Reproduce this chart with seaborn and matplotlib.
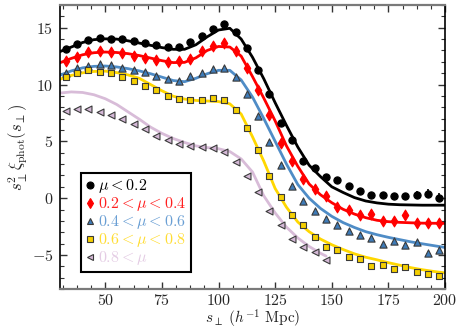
import numpy as np
import pandas as pd
import matplotlib
matplotlib.use("Agg")
import matplotlib.pyplot as plt
from matplotlib.ticker import MultipleLocator
from matplotlib.lines import Line2D
import seaborn as sns

# ---- data points (s_perp bins) ----
s_pts = [32.5, 37.5, 42.5, 47.5, 52.5, 57.5, 62.5, 67.5, 72.5, 77.5, 82.5, 87.5,
         92.5, 97.5, 102.5, 107.5, 112.5, 117.5, 122.5, 127.5, 132.5, 137.5, 142.5,
         147.5, 152.5, 157.5, 162.5, 167.5, 172.5, 177.5, 182.5, 187.5, 192.5, 197.5]

mu1_pts = [13.1, 13.58, 13.92, 14.1, 14.03, 14.04, 13.83, 13.63, 13.49, 13.32, 13.28, 13.72,
           14.3, 14.91, 15.29, 14.62, 13.23, 11.25, 9.2, 6.62, 5.12, 3.3, 2.69, 1.82,
           1.56, 1.04, 0.6, 0.25, 0.28, 0.16, 0.16, 0.28, 0.37, 0.05]
mu1_err = [0.1, 0.1, 0.1, 0.1, 0.1, 0.1, 0.1, 0.1, 0.1, 0.1, 0.1, 0.1,
           0.12, 0.12, 0.12, 0.12, 0.12, 0.15, 0.15, 0.15, 0.15, 0.2, 0.2, 0.2,
           0.2, 0.25, 0.25, 0.3, 0.3, 0.3, 0.3, 0.35, 0.4, 0.4]

mu2_pts = [12.05, 12.42, 12.82, 12.93, 12.88, 12.75, 12.52, 12.32, 12.18, 11.95, 12.1, 12.25,
           12.97, 13.38, 13.62, 12.94, 11.45, 9.55, 7.33, 4.88, 3.25, 1.68, 0.83, 0.16,
           -0.75, -1.05, -1.52, -1.38, -2.03, -2.03, -1.5, -2.15, -2.15, -2.15]
mu2_err = [0.2, 0.2, 0.2, 0.2, 0.2, 0.2, 0.2, 0.2, 0.2, 0.2, 0.2, 0.2,
           0.2, 0.2, 0.2, 0.2, 0.2, 0.2, 0.2, 0.2, 0.2, 0.25, 0.25, 0.25,
           0.25, 0.3, 0.3, 0.3, 0.3, 0.3, 0.3, 0.35, 0.35, 0.35]

mu3_pts = [11.02, 11.45, 11.66, 11.77, 11.68, 11.46, 11.24, 11.07, 10.72, 10.5, 10.32, 10.79,
           10.98, 11.39, 11.47, 10.63, 9.19, 7.27, 4.95, 2.92, 1.06, -0.22, -1.11, -1.8,
           -2.38, -2.93, -3.25, -3.5, -4.05, -3.78, -4.1, -3.9, -4.8, -4.58]

mu4_pts = [10.68, 11.05, 11.25, 11.14, 10.99, 10.67, 10.32, 9.88, 9.51, 9.02, 8.7, 8.66,
           8.68, 8.85, 8.68, 7.77, 6.2, 4.2, 1.99, 0.13, -1.49, -2.38, -3.4, -4.28,
           -4.6, -5.21, -5.35, -5.93, -5.85, -6.22, -6.09, -6.51, -6.7, -6.89]

s_pts5 = [32.5, 37.5, 42.5, 47.5, 52.5, 57.5, 62.5, 67.5, 72.5, 77.5, 82.5, 87.5,
          92.5, 97.5, 102.5, 107.5, 112.5, 117.5, 122.5, 127.5, 132.5, 137.5, 142.5, 147.5]
mu5_pts = [7.7, 7.82, 7.82, 7.6, 7.35, 7.0, 6.55, 6.08, 5.46, 5.1, 4.75, 4.55,
           4.48, 4.37, 4.08, 3.17, 1.91, 0.55, -1.11, -2.33, -3.61, -4.3, -4.72, -5.45]

# ---- model curves ----
s_mod = [30, 35, 40, 45, 50, 55, 60, 65, 70, 75, 80, 85, 90, 95, 100, 105, 110, 115,
         120, 125, 130, 135, 140, 145, 150, 155, 160, 165, 170, 175, 180, 185, 190, 195, 200]
mu1_mod = [12.9, 13.3, 13.7, 13.95, 14.02, 14.0, 13.85, 13.65, 13.45, 13.25, 13.1, 13.1,
           13.5, 14.2, 14.8, 14.95, 14.0, 12.4, 10.5, 8.4, 6.4, 4.5, 2.9, 1.9, 1.0, 0.5,
           0.05, -0.25, -0.42, -0.53, -0.58, -0.6, -0.62, -0.62, -0.62]
mu2_mod = [11.92, 12.3, 12.62, 12.8, 12.86, 12.82, 12.72, 12.55, 12.33, 12.1, 11.93, 11.95,
           12.35, 13.0, 13.35, 13.3, 12.5, 10.7, 8.8, 6.8, 4.6, 2.8, 1.25, 0.3, -0.4, -0.98,
           -1.4, -1.72, -1.95, -2.07, -2.13, -2.17, -2.2, -2.21, -2.22]
mu3_mod = [10.82, 11.2, 11.47, 11.6, 11.63, 11.55, 11.4, 11.2, 10.95, 10.65, 10.35, 10.25,
           10.55, 10.95, 11.25, 11.25, 10.4, 8.9, 7.0, 5.0, 3.0, 1.2, 0.0, -0.9, -1.6, -2.15,
           -2.58, -2.95, -3.22, -3.45, -3.65, -3.85, -4.02, -4.18, -4.34]
mu4_mod = [10.47, 10.8, 11.03, 11.15, 11.18, 11.05, 10.85, 10.55, 10.0, 9.45, 8.97, 8.72,
           8.6, 8.55, 8.5, 8.3, 7.4, 5.4, 3.25, 0.85, -0.8, -2.1, -2.95, -3.6, -4.1, -4.52,
           -4.9, -5.2, -5.43, -5.68, -5.9, -6.12, -6.3, -6.45, -6.58]
s_mod5 = [30, 35, 40, 45, 50, 55, 60, 65, 70, 75, 80, 85, 90, 95, 100, 105, 110, 115,
          120, 125, 130, 135, 140, 145, 147.5]
mu5_mod = [9.25, 9.35, 9.3, 9.1, 8.75, 8.25, 7.6, 6.95, 6.25, 5.7, 5.25, 4.9, 4.6, 4.45,
           4.35, 4.1, 3.45, 2.3, 0.2, -1.3, -2.55, -3.5, -4.25, -4.85, -5.1]

labels = [r'$\mu < 0.2$', r'$0.2 < \mu < 0.4$', r'$0.4 < \mu < 0.6$',
          r'$0.6 < \mu < 0.8$', r'$0.8 < \mu$']

line_colors = ['#000000', '#ff0000', '#4f8cc6', '#ffd700', '#d8bcd8']
face_colors = ['#000000', '#ff0000', '#3e7bb8', '#f5cf00', '#d4b8d6']
text_colors = ['#000000', '#ff2020', '#6a9fd4', '#ffdd33', '#e4cce4']
markers = ['o', 'd', '^', 's', '<']
msizes = [5.2, 5.5, 5.2, 5.0, 5.0]

sns.set_style('ticks')
plt.rcParams.update({
    'font.family': 'serif',
    'font.serif': ['cmr10', 'DejaVu Serif'],
    'mathtext.fontset': 'cm',
    'axes.formatter.use_mathtext': True,
    'axes.unicode_minus': True,
})

fig = plt.figure(figsize=(4.58, 3.33), dpi=100)
ax = fig.add_axes([0.131, 0.132, 0.8406, 0.853])

mod_sets = [(s_mod, mu1_mod), (s_mod, mu2_mod), (s_mod, mu3_mod), (s_mod, mu4_mod), (s_mod5, mu5_mod)]
pt_sets = [(s_pts, mu1_pts), (s_pts, mu2_pts), (s_pts, mu3_pts), (s_pts, mu4_pts), (s_pts5, mu5_pts)]

for i, (xs, ys) in enumerate(mod_sets):
    df = pd.DataFrame({'s': xs, 'v': ys})
    sns.lineplot(data=df, x='s', y='v', ax=ax, color=line_colors[i], lw=2.0,
                 zorder=2, legend=False)

errs = [mu1_err, mu2_err, None, None, None]
for i, (xs, ys) in enumerate(pt_sets):
    if errs[i] is not None:
        ax.errorbar(xs, ys, yerr=errs[i], fmt='none', ecolor=face_colors[i],
                    elinewidth=1.2, capsize=0, zorder=3)
    df = pd.DataFrame({'s': xs, 'v': ys})
    edge = face_colors[i] if i < 2 else '#3a3a3a'
    sns.scatterplot(data=df, x='s', y='v', ax=ax, marker=markers[i],
                    s=msizes[i] ** 2, color=face_colors[i], edgecolor=edge,
                    linewidth=0.8, zorder=4, legend=False)

ax.set_xlim(30, 200)
ax.set_ylim(-8, 17)
ax.xaxis.set_major_locator(MultipleLocator(25))
ax.xaxis.set_minor_locator(MultipleLocator(6.25))
ax.yaxis.set_major_locator(MultipleLocator(5))
ax.yaxis.set_minor_locator(MultipleLocator(1))
ax.tick_params(which='both', direction='in', top=True, right=True, labelsize=11.5,
               color='#333333')
ax.tick_params(which='major', length=5, width=1.0)
ax.tick_params(which='minor', length=3, width=0.8)
ax.tick_params(axis='x', pad=3)
ax.tick_params(axis='y', pad=5)

for side in ['left', 'right']:
    ax.spines[side].set_color('black')
    ax.spines[side].set_linewidth(1.2)
for side in ['top', 'bottom']:
    ax.spines[side].set_color('#7a7a7a')
    ax.spines[side].set_linewidth(1.6)

ax.set_xlabel(r'$s_{\perp}\ (h^{-1}\ {\rm Mpc})$', fontsize=11, labelpad=0)
ax.set_ylabel(r'$s_{\perp}^{2}\xi_{\rm phot}(s_{\perp})$', fontsize=12, labelpad=1)

handles = []
for i in range(5):
    edge = face_colors[i] if i < 2 else '#3a3a3a'
    handles.append(Line2D([], [], ls='none', marker=markers[i], markersize=5,
                          markerfacecolor=face_colors[i], markeredgecolor=edge,
                          markeredgewidth=0.8))
leg = ax.legend(handles, labels, loc='lower left', bbox_to_anchor=(0.054, 0.059),
                borderaxespad=0, fontsize=11.5, handlelength=0.5, handletextpad=0.3,
                labelspacing=0.0, borderpad=0.3, fancybox=False, framealpha=1,
                edgecolor='black', labelcolor=text_colors)
leg.get_frame().set_linewidth(1.5)

fig.savefig('out.png', dpi=100)
